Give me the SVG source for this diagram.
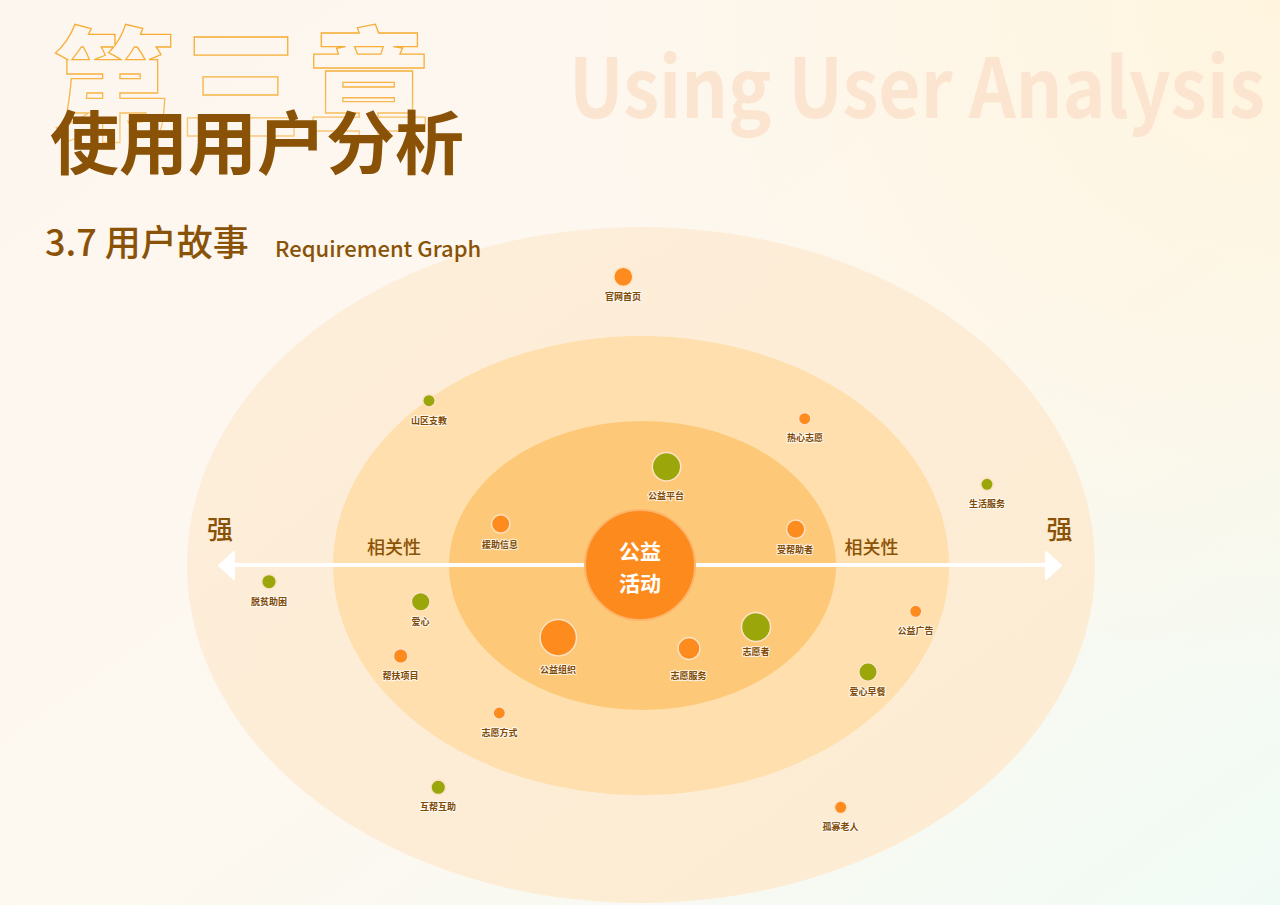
<svg xmlns="http://www.w3.org/2000/svg" width="1280" height="905" viewBox="0 0 1280 905">
<defs>
<linearGradient id="bg" x1="0" y1="0" x2="1" y2="1">
<stop offset="0" stop-color="#fdf6ee"/>
<stop offset="0.55" stop-color="#fdf8f0"/>
<stop offset="1" stop-color="#f1fbf5"/>
</linearGradient>
<radialGradient id="bgy" cx="1280" cy="0" r="700" gradientUnits="userSpaceOnUse">
<stop offset="0" stop-color="#fff5df" stop-opacity="1"/>
<stop offset="1" stop-color="#fff5df" stop-opacity="0"/>
</radialGradient>
<linearGradient id="outerG" x1="0" y1="0" x2="1" y2="1">
<stop offset="0" stop-color="#fdeedb"/>
<stop offset="1" stop-color="#fdecd2"/>
</linearGradient>
<linearGradient id="titleStroke" x1="0" y1="0" x2="0" y2="1">
<stop offset="0" stop-color="#f5a623"/>
<stop offset="0.6" stop-color="#f7b548"/>
<stop offset="1" stop-color="#fad9a0"/>
</linearGradient>
<style>
.lbl{font-family:"Noto Sans CJK SC","Noto Sans",sans-serif;font-size:9px;font-weight:700;fill:#7f4a05;text-anchor:middle;stroke:#ffffff;stroke-width:2;stroke-opacity:0.8;paint-order:stroke;stroke-linejoin:round}
.og{fill:#fd8b1d;stroke:#fde2c4;stroke-width:1.5}
.gr{fill:#9aa60a;stroke:#fde2c4;stroke-width:1.5}
.big{font-family:"Noto Sans CJK SC","Noto Sans",sans-serif;fill:#8a5206}
.side{font-family:"Noto Sans CJK SC","Noto Sans",sans-serif;font-weight:500;fill:#8a5206;text-anchor:middle}
</style>
</defs>
<rect width="1280" height="905" fill="url(#bg)"/>
<rect width="1280" height="905" fill="url(#bgy)"/>

<g id="background-text">
<text x="569" y="118" font-family="Noto Sans CJK SC, Noto Sans, sans-serif" font-weight="700" font-size="82" fill="#fce5d0" textLength="696" lengthAdjust="spacingAndGlyphs">Using User Analysis</text>
</g>

<g id="rings">
<ellipse id="ring-outer" cx="641" cy="565" rx="454" ry="338" fill="url(#outerG)"/>
<ellipse id="ring-middle" cx="641" cy="565.5" rx="308" ry="229.5" fill="#fedfad"/>
<ellipse id="ring-inner" cx="642.5" cy="565.5" rx="193.5" ry="144.5" fill="#fdc978"/>
</g>

<g id="title">
<text x="52" y="130" font-family="Noto Sans CJK SC, sans-serif" font-weight="900" font-size="122" letter-spacing="6" fill="none" stroke="url(#titleStroke)" stroke-width="1.3">第三章</text>
<text x="50" y="169" class="big" font-weight="700" font-size="69">使用用户分析</text>
<text x="45" y="256" class="big" font-weight="500" font-size="36">3.7 用户故事</text>
<text x="275" y="257" font-family="Noto Sans CJK SC, Noto Sans, sans-serif" font-weight="500" font-size="22" fill="#8a5206">Requirement Graph</text>
</g>

<g id="connectors">
<line x1="232" y1="565" x2="1048" y2="565" stroke="#ffffff" stroke-width="4"/>
<polygon points="219,565.5 234,552 234,579" fill="#ffffff" stroke="#ffffff" stroke-width="2" stroke-linejoin="round"/>
<polygon points="1061,565.5 1046,552 1046,579" fill="#ffffff" stroke="#ffffff" stroke-width="2" stroke-linejoin="round"/>
</g>

<g id="axis-labels">
<text x="220" y="539" class="side" font-size="26">强</text>
<text x="1059.5" y="539" class="side" font-size="26">强</text>
<text x="394" y="554" class="side" font-size="18">相关性</text>
<text x="871.5" y="554" class="side" font-size="18">相关性</text>
</g>

<g id="center">
<circle cx="640" cy="565" r="55" fill="#fd8a1c" stroke="#fdb468" stroke-width="2"/>
<text x="640" y="558.5" font-family="Noto Sans CJK SC, sans-serif" font-weight="700" font-size="21" fill="#ffffff" text-anchor="middle">公益</text>
<text x="640" y="591" font-family="Noto Sans CJK SC, sans-serif" font-weight="700" font-size="21" fill="#ffffff" text-anchor="middle">活动</text>
</g>

<g id="n-guanwang"><circle class="og" cx="623.3" cy="276.7" r="9.5"/><text class="lbl" x="623" y="300">官网首页</text></g>
<g id="n-shanqu"><circle class="gr" cx="429" cy="400.7" r="6.2"/><text class="lbl" x="429" y="423.5">山区支教</text></g>
<g id="n-rexin"><circle class="og" cx="804.7" cy="418.7" r="6.2"/><text class="lbl" x="805" y="440.5">热心志愿</text></g>
<g id="n-pingtai"><circle class="gr" cx="666.5" cy="466.7" r="14.2"/><text class="lbl" x="666" y="498.5">公益平台</text></g>
<g id="n-shenghuo"><circle class="gr" cx="987" cy="484.3" r="6.2"/><text class="lbl" x="987" y="506.5">生活服务</text></g>
<g id="n-yuanzhu"><circle class="og" cx="500.7" cy="524" r="9.2"/><text class="lbl" x="500" y="547.5">援助信息</text></g>
<g id="n-shoubang"><circle class="og" cx="795.7" cy="529.3" r="9.2"/><text class="lbl" x="795" y="552.5">受帮助者</text></g>
<g id="n-tuopin"><circle class="gr" cx="269" cy="581.7" r="7.3"/><text class="lbl" x="269" y="604.5">脱贫助困</text></g>
<g id="n-aixin"><circle class="gr" cx="420.7" cy="601.7" r="9.3"/><text class="lbl" x="420.5" y="624.5">爱心</text></g>
<g id="n-zuzhi"><circle class="og" cx="558.3" cy="637.7" r="18.2"/><text class="lbl" x="558" y="672.5">公益组织</text></g>
<g id="n-fuwu"><circle class="og" cx="689" cy="648.5" r="11"/><text class="lbl" x="688.5" y="678.5">志愿服务</text></g>
<g id="n-zhiyuanzhe"><circle class="gr" cx="756" cy="627" r="14.5"/><text class="lbl" x="756" y="654.5">志愿者</text></g>
<g id="n-guanggao"><circle class="og" cx="915.7" cy="611.3" r="6.2"/><text class="lbl" x="915.5" y="633.5">公益广告</text></g>
<g id="n-bangfu"><circle class="og" cx="400.7" cy="656" r="7.3"/><text class="lbl" x="400.5" y="678.5">帮扶项目</text></g>
<g id="n-zaocan"><circle class="gr" cx="868" cy="672" r="9.2"/><text class="lbl" x="867.5" y="695">爱心早餐</text></g>
<g id="n-fangshi"><circle class="og" cx="499.3" cy="713" r="6.2"/><text class="lbl" x="499.5" y="735.5">志愿方式</text></g>
<g id="n-huzhu"><circle class="gr" cx="438.3" cy="787.3" r="7.3"/><text class="lbl" x="438" y="809.5">互帮互助</text></g>
<g id="n-guagua"><circle class="og" cx="840.7" cy="807.3" r="6.2"/><text class="lbl" x="840.5" y="829.5">孤寡老人</text></g>
</svg>
